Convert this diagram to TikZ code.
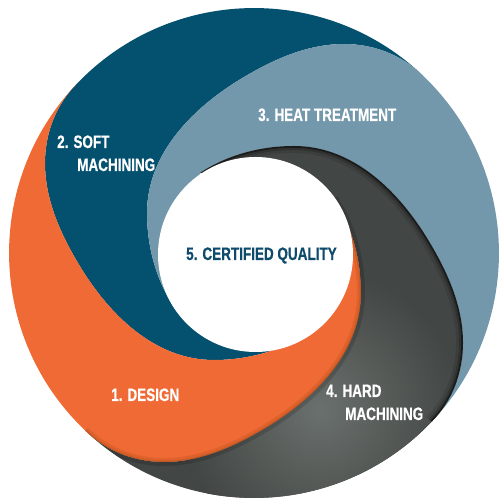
\documentclass[tikz,border=0pt]{standalone}
\usepackage{fontspec}
\setmainfont{Liberation Sans}
\newfontfamily\lblfont{Liberation Sans Bold}[FakeStretch=0.75, FakeBold=0.6]
\definecolor{cOrange}{HTML}{F06A35}
\definecolor{cOrangeD}{HTML}{B9501A}
\definecolor{cDark}{HTML}{03506F}
\definecolor{cLight}{HTML}{7398AB}
\definecolor{cGrey}{HTML}{424644}
\definecolor{cGreyL}{HTML}{6A706D}
\definecolor{cText}{HTML}{0D4A6B}
\def\headpath{(-54,80) .. controls (-26.6,98.2) and (7,107) .. (40,107) .. controls (99.5,107) and (145.7,61.2) .. (176,10) .. controls (194.3,-20.8) and (209,-54.2) .. (209,-90) .. controls (209,-119.4) and (198.3,-147.7) .. (177.7,-168.6)}
\def\piecepath{(-54,80) .. controls (-26.6,98.2) and (7,107) .. (40,107) .. controls (99.5,107) and (145.7,61.2) .. (176,10) .. controls (194.3,-20.8) and (209,-54.2) .. (209,-90) .. controls (209,-119.4) and (198.3,-147.7) .. (177.7,-168.6) arc[start angle=-43.5, end angle=-133.5, radius=245] .. controls (-147.7,-198.3) and (-119.4,-209) .. (-90,-209) .. controls (-54.2,-209) and (-20.8,-194.3) .. (10,-176) .. controls (61.2,-145.7) and (107,-99.5) .. (107,-40) .. controls (107,-7) and (98.2,26.6) .. (80,54) -- cycle}
\begin{document}
\begin{tikzpicture}[x=1pt,y=1pt,
  lbl/.style={font=\lblfont\fontsize{18}{18}\selectfont, text=white, inner sep=0pt, anchor=base west}]
\useasboundingbox (0,0) rectangle (498,500);
\begin{scope}[shift={(254,247)}]
  % 2. soft machining (dark blue)
  \begin{scope}[rotate=180]
    \fill[cDark] \piecepath;
  \end{scope}
  % 3. heat treatment (light blue)
  \begin{scope}[rotate=90]
    \fill[cLight] \piecepath;
  \end{scope}
  % 1. design (orange)
  \begin{scope}[rotate=-90]
    \fill[cOrange] \piecepath;
  \end{scope}
  % 4. hard machining (grey, shaded)
  \begin{scope}
    \clip \piecepath;
    \fill[cGrey] (-260,-260) rectangle (260,260);
    \shade[inner color=cGreyL, outer color=cGrey] (66,-157) circle (140);
    \draw[black, line width=14, opacity=0.10] \headpath;
    \draw[black, line width=8, opacity=0.18] \headpath;
    \draw[black, line width=3.5, opacity=0.45] \headpath;
    \begin{scope}[rotate=-90]
      \draw[black, line width=8, opacity=0.15] \headpath;
    \end{scope}
  \end{scope}
  % orange edge over grey
  \begin{scope}[rotate=-90]
    \clip \piecepath;
    \draw[cOrangeD, line width=8, opacity=0.30] \headpath;
    \draw[cOrangeD, line width=3, opacity=0.45] \headpath;
  \end{scope}
  % centre
  \fill[white] (1.5,-1.5) circle (97.5);
\end{scope}
\node[lbl] (t2a) at (57,352) {2. SOFT};
\node[lbl] (t2b) at (77,329) {MACHINING};
\node[lbl] (t3) at (258,379) {3. HEAT TREATMENT};
\node[lbl, text=cText] (t5) at (186,240) {5. CERTIFIED QUALITY};
\node[lbl] (t1) at (111,99) {1. DESIGN};
\node[lbl] (t4a) at (326,103) {4. HARD};
\node[lbl] (t4b) at (345,80) {MACHINING};
\end{tikzpicture}
\end{document}
